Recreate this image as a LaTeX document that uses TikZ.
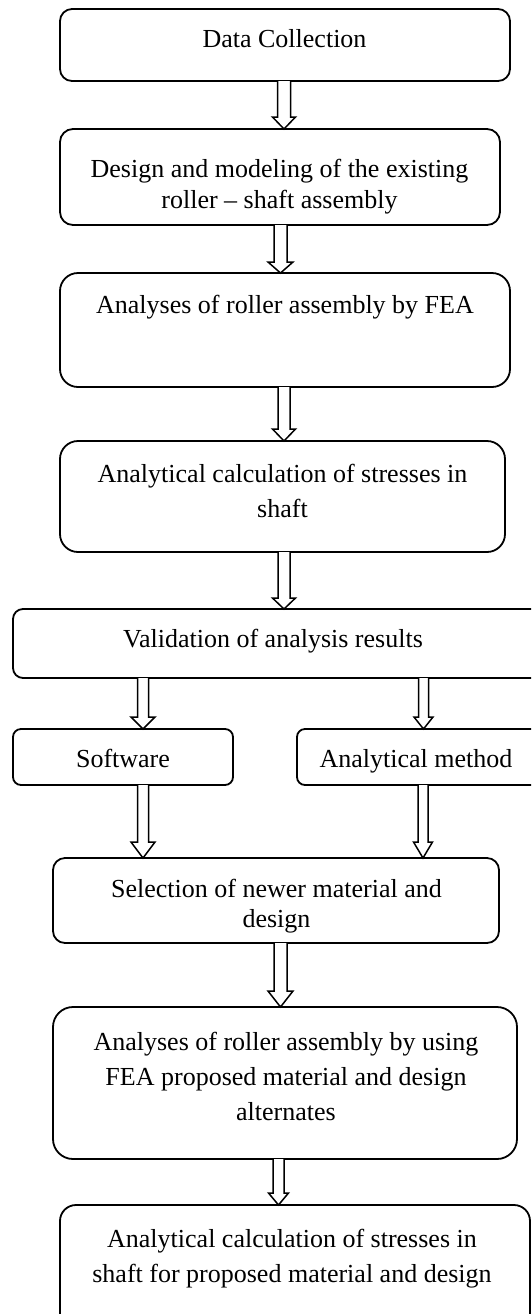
\documentclass[tikz,border=0pt]{standalone}
\usepackage{fontspec}
\setmainfont{Liberation Serif}
\usetikzlibrary{calc}
\tikzset{
  box/.style={draw, line width=0.9pt, rectangle, inner sep=0pt, outer sep=0pt},
  txt/.style={align=center, inner sep=0pt, outer sep=0pt, anchor=base},
  harr/.style={draw, line width=0.75pt, line join=miter, fill=white}
}
% #1 start coord, #2 end anchor, #3 shaft half, #4 head half, #5 head length (px)
\newcommand\harrow[5]{%
  \draw[harr] let \p1=(#1), \p2=(#2) in
  (\x1-#3*0.5pt,\y1) -- (\x1-#3*0.5pt,\y2+#5*0.5pt) -- (\x1-#4*0.5pt,\y2+#5*0.5pt)
  -- (\x1,\y2) -- (\x1+#4*0.5pt,\y2+#5*0.5pt) -- (\x1+#3*0.5pt,\y2+#5*0.5pt) -- (\x1+#3*0.5pt,\y1);}
\begin{document}
\begin{tikzpicture}[x=0.5pt,y=-0.5pt, font=\fontsize{13}{17.5}\selectfont]
\useasboundingbox (0,0) rectangle (531,1314);
\clip (0,0) rectangle (531,1314);
\fill[white] (0,0) rectangle (531,1314);

% boxes
\node[box, minimum width=225pt, minimum height=36pt, rounded corners=6pt] (b1) at (285,45) {};
\node[box, minimum width=220pt, minimum height=48pt, rounded corners=6.5pt] (b2) at (280,177) {};
\node[box, minimum width=225pt, minimum height=57pt, rounded corners=9pt] (b3) at (285,330) {};
\node[box, minimum width=222.5pt, minimum height=55.5pt, rounded corners=9pt] (b4) at (282.5,496.5) {};
\node[box, minimum width=266pt, minimum height=34.5pt, rounded corners=5pt] (b5) at (279,643.5) {};
\node[box, minimum width=110pt, minimum height=28pt, rounded corners=4pt] (b6) at (123,757) {};
\node[box, minimum width=124pt, minimum height=28pt, rounded corners=4pt] (b7) at (421,757) {};
\node[box, minimum width=223pt, minimum height=42.5pt, rounded corners=6pt] (b8) at (276,900.5) {};
\node[box, minimum width=232pt, minimum height=76pt, rounded corners=10pt] (b9) at (285,1083) {};
\node[box, minimum width=235pt, minimum height=62.5pt, rounded corners=8pt] (b10) at (295,1267.5) {};

% texts (anchor = baseline of last line)
\node[txt] (t1) at (284.5,47) {Data Collection};
\node[txt, font=\fontsize{13}{15.5}\selectfont] (t2) at (279.5,208) {Design and modeling of the existing\\roller -- shaft assembly};
\node[txt] (t3) at (285,313) {Analyses of roller assembly by FEA};
\node[txt] (t4) at (282.5,517) {Analytical calculation of stresses in\\shaft};
\node[txt] (t5) at (273,647) {Validation of analysis results};
\node[txt] (t6) at (123,767) {Software};
\node[txt] (t7) at (416,767) {Analytical method};
\node[txt, font=\fontsize{13}{15}\selectfont] (t8) at (276.5,927) {Selection of newer material and\\design};
\node[txt] (t9) at (286,1120) {Analyses of roller assembly by using\\FEA proposed material and design\\alternates};
\node[txt] (t10) at (292,1282) {Analytical calculation of stresses in\\shaft for proposed material and design};

% arrows
\harrow{$(b1.south)+(-1,0)$}{b2.north}{6.5}{11.5}{12}
\harrow{$(b2.south)+(0.5,0)$}{b3.north}{6.5}{12.5}{11}
\harrow{$(b3.south)+(-1,0)$}{b4.north}{6}{11.5}{12}
\harrow{$(b4.south)+(1.5,0)$}{b5.north}{6}{11.5}{11}
\harrow{$(b5.south)+(-136,0)$}{b6.north}{5.5}{12}{12}
\harrow{$(b5.south)+(144.5,0)$}{b7.north}{5}{9.5}{12}
\harrow{$(b6.south)+(20,0)$}{b8.north}{5.5}{12}{16}
\harrow{$(b7.south)+(2,0)$}{b8.north}{5}{9.5}{16}
\harrow{$(b8.south)+(4.5,0)$}{b9.north}{6.5}{12.5}{16}
\harrow{$(b9.south)+(-6.5,0)$}{b10.north}{5.5}{10}{12}
\end{tikzpicture}
\end{document}
